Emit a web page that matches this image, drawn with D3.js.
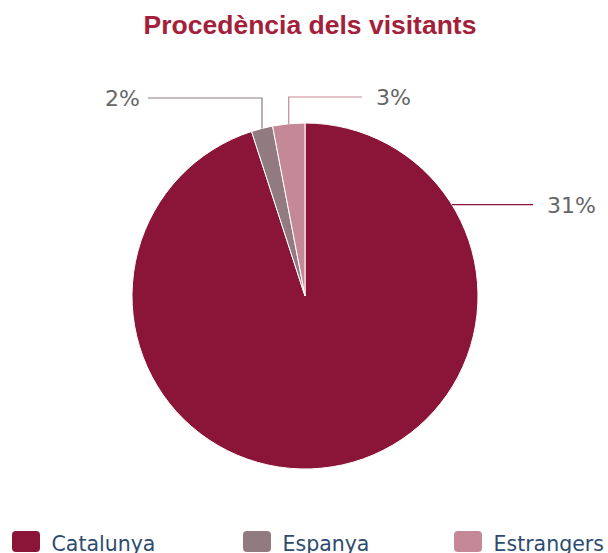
<!DOCTYPE html>
<html>
<head>
<meta charset="utf-8">
<script src="https://cdn.jsdelivr.net/npm/d3@7"></script>
<style>
  body { margin: 0; background: #fff; }
  svg { display: block; }
</style>
</head>
<body>
<div id="chart"></div>
<script>
const categories = ['Catalunya', 'Espanya', 'Estrangers'];
const values = [95, 2, 3];
const labelTexts = ['31%', '2%', '3%'];
const colors = ['#8b1538', '#927b80', '#c58896'];
// where along each slice (0..1) the leader line starts
const labelAnchor = [0.17, 0.5, 0.5];

const width = 608;
const height = 553;
const cx = 305;
const cy = 296;
const radius = 173;

const svg = d3.select('#chart').append('svg')
  .attr('width', width)
  .attr('height', height);

svg.append('text')
  .attr('x', 310)
  .attr('y', 34)
  .attr('text-anchor', 'middle')
  .attr('fill', '#a4203a')
  .style('font', 'bold 26.5px "Liberation Sans", Arial, sans-serif')
  .text('Procedència dels visitants');

const data = categories.map((c, i) => ({ name: c, value: values[i], label: labelTexts[i], color: colors[i], anchor: labelAnchor[i] }));

const pie = d3.pie().sort(null).value(d => d.value);
const arc = d3.arc().innerRadius(0).outerRadius(radius);
const arcs = pie(data);

const g = svg.append('g').attr('transform', `translate(${cx},${cy})`);

g.selectAll('path.slice')
  .data(arcs)
  .enter().append('path')
  .attr('class', 'slice')
  .attr('d', arc)
  .attr('fill', d => d.data.color)
  .attr('stroke', '#fff')
  .attr('stroke-width', 1);

// leader lines and labels
const labelY = [-91, -198, -199];
const labelEnd = [228, -157, 57];

arcs.forEach((d, i) => {
  const a = d.startAngle + (d.endAngle - d.startAngle) * d.data.anchor;
  const x0 = Math.sin(a) * radius;
  const y0 = -Math.cos(a) * radius;
  const ly = labelY[i];
  const ex = labelEnd[i];
  const right = ex > x0;
  let pts;
  if (Math.abs(ly - y0) < 2) {
    pts = [[x0, y0], [ex, y0]];
  } else {
    pts = [[x0, y0], [x0, ly], [ex, ly]];
  }
  g.append('path')
    .attr('d', d3.line()(pts))
    .attr('fill', 'none')
    .attr('stroke', d.data.color)
    .attr('stroke-width', 1.2);
  const py = pts[pts.length - 1][1];
  g.append('text')
    .attr('x', right ? ex + 14 : ex - 8)
    .attr('y', py)
    .attr('dy', '0.36em')
    .attr('text-anchor', right ? 'start' : 'end')
    .attr('fill', '#666')
    .style('font', '22px "DejaVu Sans", Verdana, sans-serif')
    .text(d.data.label);
});

// legend
const legendX = [12, 243, 454];
const legend = svg.selectAll('g.legend')
  .data(data)
  .enter().append('g')
  .attr('class', 'legend')
  .attr('transform', (d, i) => `translate(${legendX[i]},531)`);

legend.append('rect')
  .attr('width', 28)
  .attr('height', 21)
  .attr('rx', 4)
  .attr('fill', d => d.color);

legend.append('text')
  .attr('x', 39.5)
  .attr('y', 19.5)
  .attr('fill', '#2d4b6e')
  .style('font', '20.5px "DejaVu Sans", Verdana, sans-serif')
  .text(d => d.name);
</script>
</body>
</html>
